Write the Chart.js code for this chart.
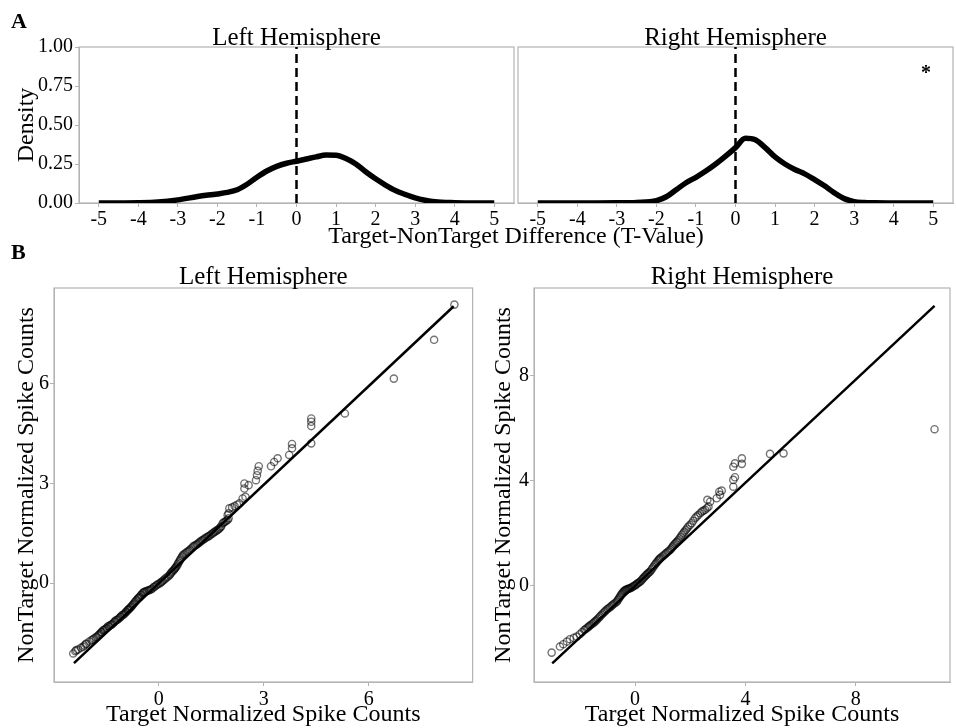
<!DOCTYPE html>
<html>
<head>
<meta charset="utf-8">
<title>Target vs NonTarget</title>
<script src="https://cdn.jsdelivr.net/npm/chart.js@4.4.1/dist/chart.umd.min.js"></script>
<style>
  html, body { margin: 0; padding: 0; background: #fff; }
  #page { position: relative; width: 956px; height: 728px; overflow: hidden;
          font-family: "Liberation Serif", "Times New Roman", serif; color: #000; }
  #page canvas { position: absolute; }
  .lbl { position: absolute; white-space: nowrap; line-height: 1; }
</style>
</head>
<body>
<div id="page">
  <canvas id="dens-left" width="516" height="228" style="left:0;top:0"></canvas>
  <canvas id="dens-right" width="440" height="228" style="left:516px;top:0"></canvas>
  <canvas id="qq-left" width="478" height="478" style="left:0;top:250px"></canvas>
  <canvas id="qq-right" width="478" height="478" style="left:478px;top:250px"></canvas>

  <div class="lbl" style="left:11px;top:10px;font-size:22px;font-weight:bold">A</div>
  <div class="lbl" style="left:11px;top:241px;font-size:22px;font-weight:bold">B</div>
  <div class="lbl" style="left:216px;width:600px;text-align:center;top:223px;font-size:24px">Target-NonTarget Difference (T-Value)</div>
</div>

<script>
// ─── Дані ─────────────────────────────────────────────────────────────────────

// A: криві щільності (T-value)
const DENS_X = [-5, -4.5, -4, -3.5, -3, -2.5, -2, -1.75, -1.5, -1.25, -1, -0.75, -0.5, -0.25,
  0, 0.25, 0.5, 0.75, 1, 1.25, 1.5, 1.75, 2, 2.25, 2.5, 2.75, 3, 3.25, 3.5, 4, 4.5, 5];
const DENS_LEFT = [0, 0, 0.001, 0.006, 0.02, 0.042, 0.058, 0.068, 0.085, 0.12, 0.165, 0.205, 0.235, 0.255,
  0.268, 0.282, 0.296, 0.307, 0.306, 0.285, 0.25, 0.2, 0.155, 0.115, 0.08, 0.055, 0.033, 0.018, 0.008, 0.002, 0, 0];
const DENS_RIGHT = [0, 0, 0, 0, 0.001, 0.004, 0.015, 0.04, 0.085, 0.13, 0.165, 0.205, 0.25, 0.30,
  0.355, 0.415, 0.405, 0.355, 0.295, 0.25, 0.215, 0.187, 0.15, 0.11, 0.065, 0.028, 0.009, 0.003, 0.001, 0, 0, 0];
const DENS_X_TICKS = [-5, -4, -3, -2, -1, 0, 1, 2, 3, 4, 5];
const DENS_Y_TICKS = [0, 0.25, 0.5, 0.75, 1];
const SIG_MARK = { text: "*", x: 4.82, y: 0.83 };

// B: QQ-графіки нормованих спайків
const QQ_LEFT_X = [-2.44, -2.38, -2.35, -2.22, -2.16, -2.08, -2.06, -1.98, -1.92, -1.85,
  -1.77, -1.70, -1.64, -1.59, -1.54, -1.48, -1.42, -1.36, -1.30, -1.25,
  -1.19, -1.13, -1.08, -1.02, -0.97, -0.92, -0.87, -0.83, -0.78, -0.73,
  -0.68, -0.63, -0.58, -0.54, -0.49, -0.44, -0.40, -0.33, -0.26, -0.19,
  -0.12, -0.05, 0.03, 0.09, 0.16, 0.23, 0.31, 0.36, 0.41, 0.46,
  0.50, 0.55, 0.60, 0.64, 0.69, 0.76, 0.83, 0.90, 0.98, 1.05,
  1.12, 1.19, 1.26, 1.33, 1.41, 1.48, 1.55, 1.61, 1.68, 1.74,
  1.79, 1.83, 1.90, 1.97, 1.97, 2.02, 2.17, 2.24, 2.31, 2.40,
  2.48, 2.45, 2.45, 2.57, 2.78, 2.81, 2.83, 2.86, 3.21, 3.30,
  3.40, 3.73, 3.81, 3.81, 4.36, 4.36, 4.36, 4.36, 5.32, 6.72,
  7.87, 8.45,
  -2.30, -2.12, -1.88, -1.80, -1.73, -1.67,
  -1.62, -1.56, -1.50, -1.45, -1.39, -1.33, -1.27, -1.22, -1.16, -1.10,
  -1.05, -0.99, -0.94, -0.89, -0.85, -0.80, -0.75, -0.70, -0.65, -0.60,
  -0.56, -0.51, -0.46, -0.42, -0.36, -0.29, -0.22, -0.15, -0.08, -0.01,
  0.06, 0.12, 0.19, 0.27, 0.33, 0.38, 0.44, 0.48, 0.53, 0.57,
  0.62, 0.67, 0.72, 0.80, 0.87, 0.94, 1.01, 1.09, 1.16, 1.23,
  1.30, 1.37, 1.44, 1.51, 1.58, 1.65, 1.71, 1.77, 1.86, 1.93,
  2.00, 2.00, 2.10];
const QQ_LEFT_Y = [-2.12, -2.05, -2.02, -1.95, -1.92, -1.84, -1.82, -1.76, -1.72, -1.67,
  -1.62, -1.55, -1.48, -1.42, -1.39, -1.35, -1.31, -1.26, -1.21, -1.16,
  -1.11, -1.06, -1.01, -0.96, -0.91, -0.86, -0.80, -0.76, -0.71, -0.64,
  -0.57, -0.51, -0.45, -0.41, -0.35, -0.29, -0.26, -0.23, -0.21, -0.17,
  -0.11, -0.05, -0.01, 0.04, 0.10, 0.17, 0.24, 0.31, 0.37, 0.43,
  0.49, 0.58, 0.67, 0.75, 0.84, 0.90, 0.95, 1.01, 1.09, 1.14,
  1.19, 1.25, 1.30, 1.35, 1.40, 1.45, 1.50, 1.55, 1.60, 1.65,
  1.72, 1.80, 1.85, 1.90, 2.05, 2.25, 2.32, 2.36, 2.40, 2.55,
  2.60, 2.85, 3.00, 2.95, 3.10, 3.25, 3.38, 3.52, 3.52, 3.65,
  3.76, 3.86, 4.06, 4.19, 4.21, 4.73, 4.86, 4.96, 5.11, 6.16,
  7.33, 8.39,
  -2.00, -1.88, -1.70, -1.64, -1.58, -1.52,
  -1.47, -1.42, -1.37, -1.30, -1.27, -1.24, -1.17, -1.12, -1.09, -1.03,
  -0.97, -0.94, -0.88, -0.82, -0.79, -0.73, -0.67, -0.61, -0.54, -0.47,
  -0.44, -0.37, -0.31, -0.27, -0.25, -0.22, -0.19, -0.13, -0.08, -0.03,
  0.02, 0.07, 0.14, 0.20, 0.27, 0.34, 0.40, 0.46, 0.53, 0.62,
  0.71, 0.80, 0.87, 0.93, 0.98, 1.05, 1.12, 1.16, 1.22, 1.28,
  1.33, 1.38, 1.42, 1.48, 1.53, 1.58, 1.62, 1.68, 1.83, 1.88,
  1.95, 2.10, 2.28];
const REF_LEFT_X = [-2.42, 8.43];
const REF_LEFT_Y = [-2.41, 8.34];
const QQ_LEFT_TICKS = [0, 3, 6];

const QQ_RIGHT_X = [-3.02, -2.72, -2.60, -2.47, -2.36, -2.22, -2.11, -2.00, -1.92, -1.84,
  -1.75, -1.66, -1.57, -1.48, -1.39, -1.30, -1.21, -1.12, -1.03, -0.94,
  -0.85, -0.76, -0.66, -0.60, -0.54, -0.48, -0.42, -0.36, -0.30, -0.24,
  -0.18, -0.11, -0.04, 0.04, 0.11, 0.18, 0.26, 0.33, 0.40, 0.47,
  0.54, 0.62, 0.70, 0.78, 0.85, 0.91, 1.00, 1.09, 1.18, 1.27,
  1.35, 1.42, 1.50, 1.57, 1.66, 1.75, 1.84, 1.93, 2.05, 2.17,
  2.29, 2.42, 2.54, 2.66, 2.72, 2.62, 2.96, 3.08, 3.05, 3.14,
  3.56, 3.56, 3.62, 3.56, 3.62, 3.87, 3.87, 4.89, 5.38, 10.85,
  -1.80, -1.70, -1.62, -1.52, -1.43, -1.35, -1.26, -1.17, -1.08, -0.99,
  -0.90, -0.81, -0.71, -0.63, -0.57, -0.51, -0.45, -0.39, -0.33, -0.27,
  -0.21, -0.14, -0.08, 0.00, 0.07, 0.14, 0.22, 0.29, 0.36, 0.43,
  0.50, 0.58, 0.66, 0.74, 0.82, 0.88, 0.95, 1.04, 1.13, 1.22,
  1.31, 1.38, 1.46, 1.53, 1.61, 1.70, 1.79, 1.88, 1.99, 2.11,
  2.23, 2.36, 2.48, 2.60];
const QQ_RIGHT_Y = [-2.54, -2.31, -2.22, -2.12, -2.03, -1.98, -1.93, -1.84, -1.76, -1.68,
  -1.61, -1.53, -1.46, -1.38, -1.30, -1.20, -1.10, -1.00, -0.91, -0.84,
  -0.76, -0.68, -0.60, -0.50, -0.40, -0.30, -0.22, -0.17, -0.14, -0.11,
  -0.09, -0.05, 0.00, 0.05, 0.11, 0.16, 0.25, 0.33, 0.41, 0.48,
  0.54, 0.66, 0.78, 0.89, 0.99, 1.05, 1.13, 1.21, 1.29, 1.37,
  1.48, 1.58, 1.66, 1.75, 1.88, 2.01, 2.13, 2.26, 2.39, 2.58,
  2.70, 2.83, 2.90, 3.02, 3.21, 3.28, 3.34, 3.47, 3.59, 3.63,
  3.78, 4.04, 4.14, 4.54, 4.67, 4.65, 4.86, 5.03, 5.05, 5.97,
  -1.65, -1.57, -1.50, -1.42, -1.34, -1.25, -1.15, -1.05, -0.96, -0.87,
  -0.80, -0.72, -0.64, -0.55, -0.45, -0.35, -0.26, -0.19, -0.15, -0.12,
  -0.10, -0.07, -0.02, 0.02, 0.08, 0.13, 0.20, 0.29, 0.37, 0.44,
  0.51, 0.60, 0.72, 0.84, 0.94, 1.02, 1.09, 1.17, 1.25, 1.33,
  1.42, 1.53, 1.62, 1.70, 1.81, 1.95, 2.07, 2.19, 2.32, 2.48,
  2.64, 2.77, 2.87, 2.96];
const REF_RIGHT_X = [-3.0, 10.85];
const REF_RIGHT_Y = [-2.95, 10.67];
const QQ_RIGHT_TICKS = [0, 4, 8];

// ─── Стиль ────────────────────────────────────────────────────────────────────
const GREY = "#b3b3b3";
const SERIF = '"Liberation Serif", "Times New Roman", serif';
Chart.defaults.font.family = SERIF;
Chart.defaults.color = "#000";

const pairs = (xs, ys) => xs.map((x, i) => ({ x, y: ys[i] }));
const fixedTicks = values => scale => { scale.ticks = values.map(v => ({ value: v })); };

// рамка панелі + заголовок + позначка значущості
const panelDecor = {
  id: "panelDecor",
  beforeDatasetsDraw(chart) {
    const { ctx, chartArea: a } = chart;
    ctx.save();
    ctx.strokeStyle = GREY;
    ctx.lineWidth = 1.2;
    ctx.strokeRect(a.left, a.top, a.right - a.left, a.bottom - a.top);
    ctx.restore();
  },
  afterDraw(chart, args, opts) {
    const { ctx, chartArea: a, scales } = chart;
    ctx.save();
    ctx.fillStyle = "#000";
    ctx.font = "25px " + SERIF;
    ctx.textAlign = "center";
    ctx.textBaseline = "alphabetic";
    ctx.fillText(opts.title, (a.left + a.right) / 2, a.top - opts.gap);
    if (opts.mark) {
      ctx.font = "bold 20px " + SERIF;
      ctx.textBaseline = "middle";
      ctx.fillText(opts.mark.text, scales.x.getPixelForValue(opts.mark.x), scales.y.getPixelForValue(opts.mark.y));
    }
    ctx.restore();
  }
};

function tickAxis(min, max, ticks, fmt, extra) {
  return Object.assign({
    type: "linear",
    min, max,
    afterBuildTicks: fixedTicks(ticks),
    ticks: { font: { size: 20 }, color: "#000", autoSkip: false, maxRotation: 0, callback: fmt },
    grid: { drawOnChartArea: false, drawTicks: true, tickLength: 4, color: GREY },
    border: { display: true, color: GREY, width: 1 }
  }, extra);
}

// ─── A: щільності ─────────────────────────────────────────────────────────────
function renderDensity(id, values, opts) {
  const canvas = document.getElementById(id);
  const xAxis = tickAxis(-5.5, 5.5, DENS_X_TICKS, v => String(v), {
    afterFit: s => { s.height = 25; }
  });
  xAxis.ticks.padding = 1;

  let yAxis;
  if (opts.showY) {
    yAxis = tickAxis(0, 1, DENS_Y_TICKS, v => v.toFixed(2), {
      afterFit: s => { s.width = 79; },
      title: { display: true, text: "Density", font: { size: 24, lineHeight: 1 }, color: "#000", padding: { top: 15, bottom: 0 } }
    });
    yAxis.ticks.padding = 2;
  } else {
    yAxis = { type: "linear", min: 0, max: 1, display: false };
  }

  return new Chart(canvas, {
    type: "line",
    data: {
      datasets: [
        {
          data: pairs(DENS_X, values),
          borderColor: "#000",
          borderWidth: 5.5,
          pointRadius: 0,
          cubicInterpolationMode: "monotone",
          fill: false
        },
        {
          data: [{ x: 0, y: 0 }, { x: 0, y: 1 }],
          borderColor: "#000",
          borderWidth: 2.5,
          borderDash: [9, 5],
          pointRadius: 0
        }
      ]
    },
    options: {
      responsive: false,
      animation: false,
      events: [],
      layout: { padding: opts.padding },
      plugins: {
        legend: { display: false },
        tooltip: { enabled: false },
        panelDecor: { title: opts.title, gap: 2, mark: opts.mark || null }
      },
      scales: { x: xAxis, y: yAxis }
    },
    plugins: [panelDecor]
  });
}

// ─── B: QQ-графіки ────────────────────────────────────────────────────────────
function renderQQ(id, xs, ys, refX, refY, opts) {
  const canvas = document.getElementById(id);
  const xAxis = tickAxis(opts.xMin, opts.xMax, opts.ticks, v => String(v), {
    afterFit: s => { s.height = 46; },
    title: { display: true, text: "Target Normalized Spike Counts", font: { size: 24, lineHeight: 1 }, color: "#000", padding: { top: 0, bottom: 1 } }
  });
  xAxis.ticks.padding = 2;
  const yAxis = tickAxis(opts.yMin, opts.yMax, opts.ticks, v => String(v), {
    afterFit: s => { s.width = opts.yWidth; },
    title: { display: true, text: "NonTarget Normalized Spike Counts", font: { size: 24, lineHeight: 1 }, color: "#000", padding: { top: opts.yTitlePad, bottom: 0 } }
  });
  yAxis.ticks.padding = 1;

  return new Chart(canvas, {
    type: "scatter",
    data: {
      datasets: [
        {
          data: pairs(refX, refY),
          showLine: true,
          borderColor: "#000",
          borderWidth: 2.5,
          pointRadius: 0
        },
        {
          data: pairs(xs, ys),
          pointStyle: "circle",
          pointRadius: 3.6,
          borderWidth: 1.4,
          borderColor: "rgba(0,0,0,0.55)",
          backgroundColor: "rgba(0,0,0,0)"
        }
      ]
    },
    options: {
      responsive: false,
      animation: false,
      events: [],
      layout: { padding: opts.padding },
      plugins: {
        legend: { display: false },
        tooltip: { enabled: false },
        panelDecor: { title: opts.title, gap: 4 }
      },
      scales: { x: xAxis, y: yAxis }
    },
    plugins: [panelDecor]
  });
}

renderDensity("dens-left", DENS_LEFT, {
  title: "Left Hemisphere", showY: true,
  padding: { top: 47, right: 2, left: 0, bottom: 0 }
});
renderDensity("dens-right", DENS_RIGHT, {
  title: "Right Hemisphere", showY: false, mark: SIG_MARK,
  padding: { top: 47, right: 3, left: 2, bottom: 0 }
});

renderQQ("qq-left", QQ_LEFT_X, QQ_LEFT_Y, REF_LEFT_X, REF_LEFT_Y, {
  title: "Left Hemisphere", ticks: QQ_LEFT_TICKS,
  xMin: -2.99, xMax: 8.97, yMin: -2.98, yMax: 8.89,
  yWidth: 54, yTitlePad: 15,
  padding: { top: 38, right: 4, left: 0, bottom: 0 }
});
renderQQ("qq-right", QQ_RIGHT_X, QQ_RIGHT_Y, REF_RIGHT_X, REF_RIGHT_Y, {
  title: "Right Hemisphere", ticks: QQ_RIGHT_TICKS,
  xMin: -3.66, xMax: 11.41, yMin: -3.66, yMax: 11.35,
  yWidth: 56, yTitlePad: 14,
  padding: { top: 38, right: 6, left: 0, bottom: 0 }
});
</script>
</body>
</html>
